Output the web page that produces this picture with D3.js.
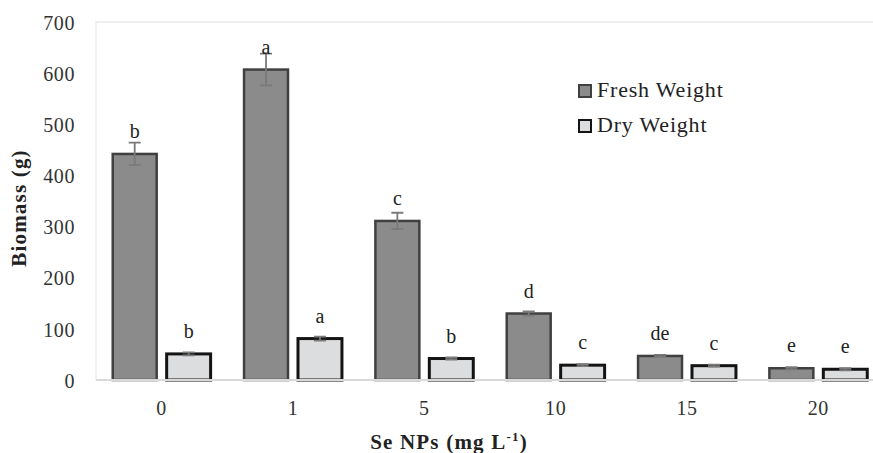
<!DOCTYPE html>
<html>
<head>
<meta charset="utf-8">
<script src="https://cdn.jsdelivr.net/npm/d3@7"></script>
<style>
  body { margin: 0; background: #fff; }
  svg, svg text { font-family: "Liberation Serif", "DejaVu Serif", serif !important; }
  svg { display: block; }
</style>
</head>
<body>
<div id="chart"></div>
<script>
const doses = ["0", "1", "5", "10", "15", "20"];
const series = ["Fresh Weight", "Dry Weight"];
const freshMean = [442, 607, 311, 130, 47, 23];
const freshErr = [22, 31, 16, 4, 2, 2];
const freshLetters = ["b", "a", "c", "d", "de", "e"];
const dryMean = [51, 81, 42, 29, 28, 21];
const dryErr = [3, 4, 2, 2, 2, 2];
const dryLetters = ["b", "a", "b", "c", "c", "e"];
const yTicks = [0, 100, 200, 300, 400, 500, 600, 700];

const W = 873, H = 453;
const plotL = 96, plotT = 22, plotB = 380, plotR = 884;

const fills = { "Fresh Weight": "#8c8b8c", "Dry Weight": "#dcdddf" };
const strokes = { "Fresh Weight": "#404040", "Dry Weight": "#141414" };

const rows = doses.map((d, i) => ({
  dose: d,
  bars: [
    { key: "Fresh Weight", v: freshMean[i], e: freshErr[i], l: freshLetters[i] },
    { key: "Dry Weight", v: dryMean[i], e: dryErr[i], l: dryLetters[i] }
  ]
}));

const svg = d3.select('#chart').append('svg')
  .attr('width', W).attr('height', H);

const x0 = d3.scaleBand().domain(doses).range([plotL, plotR]).padding(0);
const x1 = d3.scaleBand().domain(series).range([0, x0.bandwidth()])
  .paddingInner(0.185).paddingOuter(0.31);
const y = d3.scaleLinear().domain([0, 700]).range([plotB, plotT]);

// plot area border (top + left)
svg.append('path')
  .attr('d', `M${plotL},${plotB} V${plotT} H${W + 5}`)
  .attr('fill', 'none').attr('stroke', '#ececec').attr('stroke-width', 1.5);

// y axis
const yAxis = svg.append('g')
  .attr('transform', `translate(${plotL},0)`)
  .call(d3.axisLeft(y).tickValues(yTicks).tickSize(0).tickPadding(21));
yAxis.select('.domain').remove();
yAxis.selectAll('text').attr('font-size', 20).attr('letter-spacing', 0.6)
  .attr('fill', '#333').attr('dy', '0.36em');

// bars
const groups = svg.selectAll('.grp')
  .data(rows).enter().append('g')
  .attr('class', 'grp')
  .attr('transform', d => `translate(${x0(d.dose)},0)`);

const bar = groups.selectAll('.bar')
  .data(d => d.bars).enter().append('g').attr('class', 'bar');

bar.append('rect')
  .attr('x', d => x1(d.key))
  .attr('y', d => y(d.v))
  .attr('width', x1.bandwidth())
  .attr('height', d => y(0) - y(d.v))
  .attr('fill', d => fills[d.key])
  .attr('stroke', d => strokes[d.key])
  .attr('stroke-width', d => d.key === "Dry Weight" ? 3 : 2.5);

// error bars
const cap = 6;
bar.append('path')
  .attr('d', d => {
    const cx = x1(d.key) + x1.bandwidth() / 2;
    const t = y(d.v + d.e), b = y(d.v - d.e);
    return `M${cx - cap},${t} H${cx + cap} M${cx},${t} V${b} M${cx - cap},${b} H${cx + cap}`;
  })
  .attr('fill', 'none').attr('stroke', '#7a7a7a').attr('stroke-width', 1.8);

// significance letters
bar.append('text')
  .attr('x', d => x1(d.key) + x1.bandwidth() / 2)
  .attr('y', d => y(d.v) - 16)
  .attr('text-anchor', 'middle')
  .attr('font-size', 20)
  .attr('fill', '#222')
  .text(d => d.l);

// x axis baseline
svg.append('line')
  .attr('x1', plotL).attr('x2', W + 5)
  .attr('y1', plotB).attr('y2', plotB)
  .attr('stroke', '#d9d9d9').attr('stroke-width', 2);

const xAxis = svg.append('g')
  .attr('transform', `translate(0,${plotB})`)
  .call(d3.axisBottom(x0).tickSize(0).tickPadding(21));
xAxis.select('.domain').remove();
xAxis.selectAll('text').attr('font-size', 20).attr('letter-spacing', 0.6).attr('fill', '#333');

// axis titles
svg.append('text')
  .attr('transform', `translate(26,208) rotate(-90)`)
  .attr('text-anchor', 'middle')
  .attr('font-size', 21).attr('letter-spacing', 1.2)
  .attr('font-weight', 'bold').attr('fill', '#222')
  .text('Biomass (g)');

const xt = svg.append('text')
  .attr('x', 449).attr('y', 449)
  .attr('text-anchor', 'middle')
  .attr('font-size', 21).attr('letter-spacing', 1.2)
  .attr('font-weight', 'bold').attr('fill', '#222');
xt.append('tspan').text('Se NPs (mg L');
xt.append('tspan').attr('font-size', 13).attr('dy', -8).text('-1');
xt.append('tspan').attr('dy', 8).text(')');

// legend
const legend = svg.append('g').attr('transform', 'translate(579,85)');
const li = legend.selectAll('g').data(series).enter().append('g')
  .attr('transform', (d, i) => `translate(0,${i * 35})`);
li.append('rect')
  .attr('width', 12).attr('height', 12)
  .attr('fill', d => fills[d])
  .attr('stroke', d => strokes[d]).attr('stroke-width', 2);
li.append('text')
  .attr('x', 18).attr('y', 12)
  .attr('font-size', 22).attr('letter-spacing', 0.8).attr('fill', '#222')
  .text(d => d);
</script>
</body>
</html>
